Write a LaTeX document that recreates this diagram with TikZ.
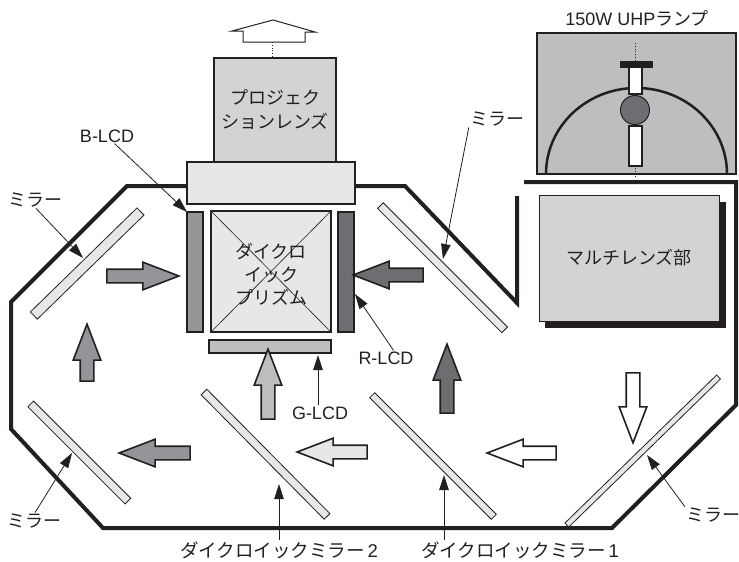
\documentclass[tikz,border=0pt]{standalone}
\usepackage{fontspec}
\setmainfont{Liberation Sans}
\newfontfamily\jpfont{Noto Sans CJK JP}
\usetikzlibrary{arrows.meta,shapes.arrows}
\definecolor{ink}{RGB}{35,31,32}
\definecolor{paleblock}{RGB}{230,231,232}
\definecolor{lensgray}{RGB}{209,211,212}
\definecolor{lampgray}{RGB}{188,190,192}
\definecolor{midgray}{RGB}{147,149,152}
\definecolor{darkgray}{RGB}{109,110,113}
\newcommand{\jp}[1]{{\jpfont #1}}

\begin{document}
\begin{tikzpicture}[x=1pt,y=-1pt,>={Triangle[length=15pt,width=9.5pt]}]
\tikzset{
  wall/.style={draw=ink,line width=4pt,line join=miter},
  box/.style={rectangle,draw=ink,line width=2pt,inner sep=0pt,outer sep=0pt,align=center,text=ink},
  mirror/.style={rectangle,draw=ink,line width=.8pt,fill=paleblock,inner sep=0pt,outer sep=0pt,minimum height=8pt},
  beam/.style={single arrow,draw=ink,line width=1.6pt,inner sep=0pt,outer sep=0pt,text height=12pt,text depth=0pt,minimum width=26pt,minimum height=70pt,single arrow head extend=7pt,single arrow tip angle=42},
  lab/.style={font=\fontsize{18}{23}\selectfont,text=ink,align=center,inner sep=1pt},
  longlab/.style={font=\fontsize{18.5}{20}\selectfont,text=ink,inner sep=1pt},
  lead/.style={->,draw=ink,line width=.8pt},
  dots/.style={draw=ink,line width=.8pt,dotted}
}
\useasboundingbox (0,0) rectangle (739,562);
% housing
\draw[wall] (524,182) -- (736,182) -- (736,405) -- (612,528) -- (103,528) -- (11,429) -- (11,302) -- (127,186) -- (190,186);
\draw[wall] (352,186) -- (405,186) -- (517,303) -- (517,196);
% lamp
\node[box,fill=lampgray,line width=1.5pt,minimum width=199pt,minimum height=141pt] (lamp) at (636.5,103.5) {};
\draw[draw=ink,line width=2.5pt] (546,174) .. controls (546,126.5) and (586.5,88) .. (636.5,88) .. controls (686.5,88) and (727,126.5) .. (727,174);
\draw[dots] (635,43) -- (635,62);
\draw[dots] (635,168) -- (635,178);
\node[box,fill=ink,minimum width=31pt,minimum height=5pt] (lampcap) at (636,64.5) {};
\node[box,fill=white,minimum width=13pt,minimum height=27pt] (tubeup) at (635.5,80.5) {};
\node[box,fill=white,minimum width=13pt,minimum height=40pt] (tubedown) at (635.5,146) {};
\node[circle,draw=ink,line width=1pt,fill=darkgray,minimum size=29pt,inner sep=0pt] (bulb) at (635,110) {};
\node[lab] (lblamp) at (637,18) {150W UHP\jp{ランプ}};
% lens array
\node[rectangle,fill=ink,minimum width=181pt,minimum height=126pt,inner sep=0pt] (lensshade) at (635.5,265) {};
\node[box,fill=lensgray,line width=1pt,minimum width=180pt,minimum height=126pt,font=\fontsize{18}{23}\selectfont] (lensarr) at (629,258) {\jp{マルチレンズ部}};
% projection lens and prism
\draw[dots] (272,42) -- (272,58);
\node[box,fill=lensgray,line width=2.5pt,minimum width=122pt,minimum height=104pt,font=\fontsize{18}{24}\selectfont] (projlens) at (275,110) {\jp{プロジェク}\\\jp{ションレンズ}};
\node[box,fill=paleblock,minimum width=168pt,minimum height=42pt] (lid) at (271,183) {};
\node[box,fill=paleblock,minimum width=120pt,minimum height=121pt] (prism) at (271,271.5) {};
\draw[draw=ink,line width=.6pt] (prism.north west) -- (prism.south east);
\draw[draw=ink,line width=.6pt] (prism.north east) -- (prism.south west);
\node[lab,font=\fontsize{18}{23}\selectfont] (lblprism) at (271,274) {\jp{ダイクロ}\\\jp{イック}\\\jp{プリズム}};
\node[box,fill=midgray,minimum width=16pt,minimum height=120pt] (blcd) at (195,272) {};
\node[box,fill=darkgray,minimum width=16pt,minimum height=120pt] (rlcd) at (346,272) {};
\node[box,fill=lampgray,minimum width=122pt,minimum height=13pt] (glcd) at (270,346.5) {};
% exit arrow
\draw[draw=ink,line width=1pt,fill=white] (273,20) -- (315,32) -- (305,32) -- (305,42) -- (243,42) -- (243,31) -- (232,31) -- cycle;
% mirrors
\node[mirror,minimum width=149pt,minimum height=10pt,rotate=44.3] (mirrora) at (87.2,263.5) {};
\node[mirror,minimum width=137.5pt,rotate=-45] (mirrorb) at (79.3,452.5) {};
\node[mirror,minimum width=175pt,rotate=-45.3] (dichrotwo) at (265.5,454.2) {};
\node[mirror,minimum width=172pt,minimum height=7pt,rotate=-45] (dichroone) at (433,456) {};
\node[mirror,minimum width=212pt,minimum height=5.5pt,rotate=44.3] (mirrorc) at (642.7,451) {};
\node[mirror,minimum width=175.7pt,rotate=-45] (mirrord) at (442.5,267.7) {};
% light path
\node[beam,fill=white,rotate=-90] (beamdown) at (633,399) {};
\node[beam,fill=white,rotate=180,minimum height=69pt] (beamone) at (530.5,453) {};
\node[beam,fill=paleblock,rotate=180] (beamtwo) at (341,452) {};
\node[beam,fill=midgray,rotate=180,minimum height=71pt] (beamthree) at (163.5,453) {};
\node[beam,fill=midgray,rotate=90,minimum height=57pt] (beamfour) at (87,361.5) {};
\node[beam,fill=midgray,minimum height=72pt] (beamfive) at (134,276) {};
\node[beam,fill=lampgray,rotate=90] (beamsix) at (268,393) {};
\node[beam,fill=darkgray,rotate=90,minimum height=69pt] (beamseven) at (447,387.5) {};
\node[beam,fill=darkgray,rotate=180] (beameight) at (397,275) {};
% labels
\node[lab] (lblb) at (107,136) {B-LCD};
\node[lab] (lblr) at (386,358) {R-LCD};
\node[lab] (lblg) at (320,413) {G-LCD};
\node[lab] (lblma) at (36,200) {\jp{ミラー}};
\node[lab] (lblmb) at (35,521) {\jp{ミラー}};
\node[lab] (lblmc) at (713,515) {\jp{ミラー}};
\node[lab] (lblmd) at (497,119) {\jp{ミラー}};
\node[longlab] (lbldtwo) at (279,550) {\jp{ダイクロイックミラー}\,2};
\node[longlab] (lbldone) at (520,550) {\jp{ダイクロイックミラー}\,1};
\coordinate (tipr) at (355,294);
\coordinate (tipg) at (318,355);
\coordinate (tipma) at (83,258);
\coordinate (tipmb) at (72,453);
\coordinate (tipmc) at (647,455);
\coordinate (tipmd) at (443,259);
\coordinate (tipdtwo) at (279,484);
\coordinate (tipdone) at (444,475);
\draw[lead] (lblb.-45) -- (blcd.north west);
\draw[lead] (lblr.45) -- (tipr);
\draw[lead] (lblg.north -| tipg) -- (tipg);
\draw[lead] (lblma.south) -- (tipma);
\draw[lead] (lblmb.north) -- (tipmb);
\draw[lead] (lblmc.north west) -- (tipmc);
\draw[lead] (lblmd.south west) -- (tipmd);
\draw[lead] (lbldtwo.north) -- (tipdtwo);
\draw[lead] (lbldone.north -| tipdone) -- (tipdone);
\end{tikzpicture}
\end{document}
